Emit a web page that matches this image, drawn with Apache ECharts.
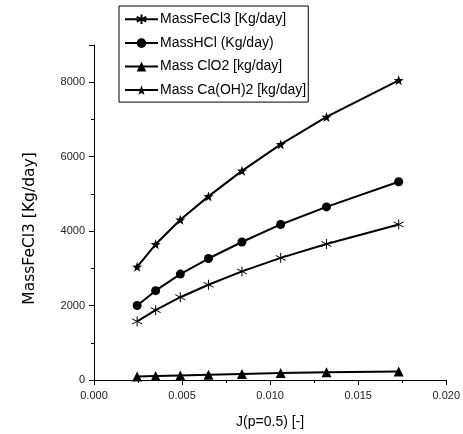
<!DOCTYPE html>
<html>
<head>
<meta charset="utf-8">
<script src="https://cdn.jsdelivr.net/npm/echarts@6/dist/echarts.min.js"></script>
<style>html,body{margin:0;padding:0;background:#fff}#c{width:463px;height:434px}</style>
</head>
<body>
<div id="c"></div>
<script>
const xValues = [0.00245, 0.0035, 0.0049, 0.0065, 0.0084, 0.0106, 0.0132, 0.0173];
const massFeCl3 = [1573, 1877, 2224, 2560, 2917, 3280, 3653, 4179];
const massHCl = [2000, 2400, 2845, 3264, 3707, 4179, 4651, 5325];
const massClO2 = [95, 108, 122, 140, 162, 185, 205, 228];
const massCaOH2 = [3040, 3645, 4304, 4933, 5619, 6330, 7067, 8050];
const seriesNames = ['MassFeCl3 [Kg/day]', 'MassHCl (Kg/day)', 'Mass ClO2 [kg/day]', 'Mass Ca(OH)2 [kg/day]'];
const xTicks = [0, 0.005, 0.01, 0.015, 0.02];
const yTicks = [0, 2000, 4000, 6000, 8000];

const asterisk = 'path://M0,-10L0,10M-8.66,-5L8.66,5M-8.66,5L8.66,-5';
const star = 'path://M0,-10L2.35,-3.24L9.51,-3.09L3.8,1.24L5.88,8.09L0,4L-5.88,8.09L-3.8,1.24L-9.51,-3.09L-2.35,-3.24Z';

function pairs(ys){ return xValues.map((x,i)=>[x, ys[i]]); }
function mk(name, ys, symbol, size, extra){
  return Object.assign({
    name: name, type: 'line', data: pairs(ys), symbol: symbol, symbolSize: size,
    showAllSymbol: true,
    lineStyle: {color: '#000', width: 2},
    itemStyle: {color: '#000', borderColor: '#000', borderWidth: 0},
    emphasis: {disabled: true}, animation: false
  }, extra || {});
}

const chart = echarts.init(document.getElementById('c'), null, {renderer: 'canvas'});
chart.setOption({
  animation: false,
  textStyle: {fontFamily: 'Liberation Sans, Arial, sans-serif'},
  grid: {left: 94, top: 45, right: 15, bottom: 52, containLabel: false},
  legend: {
    orient: 'vertical', left: 119, top: 6,
    data: seriesNames,
    itemWidth: 33, itemHeight: 12, itemGap: 9.5,
    padding: [6, 2, 5, 5],
    borderColor: '#000', borderWidth: 1,
    textStyle: {fontSize: 14, color: '#000', padding: [0,0,0,-3]},
    selectedMode: false
  },
  xAxis: {
    type: 'value', min: 0, max: 0.02, interval: 0.005,
    name: 'J(p=0.5) [-]', nameLocation: 'middle', nameGap: 35,
    nameTextStyle: {fontSize: 14, color: '#000'},
    axisLine: {show: true, onZero: false, lineStyle: {color: '#000', width: 1}},
    axisTick: {show: true, inside: false, length: 5, lineStyle: {color: '#000'}},
    minorTick: {show: true, splitNumber: 2, length: 3, lineStyle: {color: '#000'}},
    axisLabel: {fontSize: 11, color: '#222', margin: 10, formatter: v => v.toFixed(3)},
    splitLine: {show: false}
  },
  yAxis: {
    type: 'value', min: 0, max: 9000, interval: 2000,
    name: 'MassFeCl3 [Kg/day]', nameLocation: 'middle', nameGap: 56,
    nameTextStyle: {fontSize: 15.5, fontFamily: 'DejaVu Sans', color: '#000', padding: [0, 32, 0, 0]},
    axisLine: {show: true, onZero: false, lineStyle: {color: '#000', width: 1}},
    axisTick: {show: true, inside: false, length: 5, lineStyle: {color: '#000'}},
    minorTick: {show: true, splitNumber: 2, length: 3, lineStyle: {color: '#000'}},
    axisLabel: {fontSize: 11, color: '#222', margin: 9, showMaxLabel: false,
      formatter: v => (yTicks.indexOf(v) >= 0 ? String(v) : '')},
    splitLine: {show: false}
  },
  series: [
    mk(seriesNames[0], massFeCl3, asterisk, 10, {itemStyle: {color: 'none', borderColor: '#000', borderWidth: 1}}),
    mk(seriesNames[1], massHCl, 'circle', 9),
    mk(seriesNames[2], massClO2, 'triangle', 10),
    mk(seriesNames[3], massCaOH2, star, 10)
  ]
});
</script>
</body>
</html>
